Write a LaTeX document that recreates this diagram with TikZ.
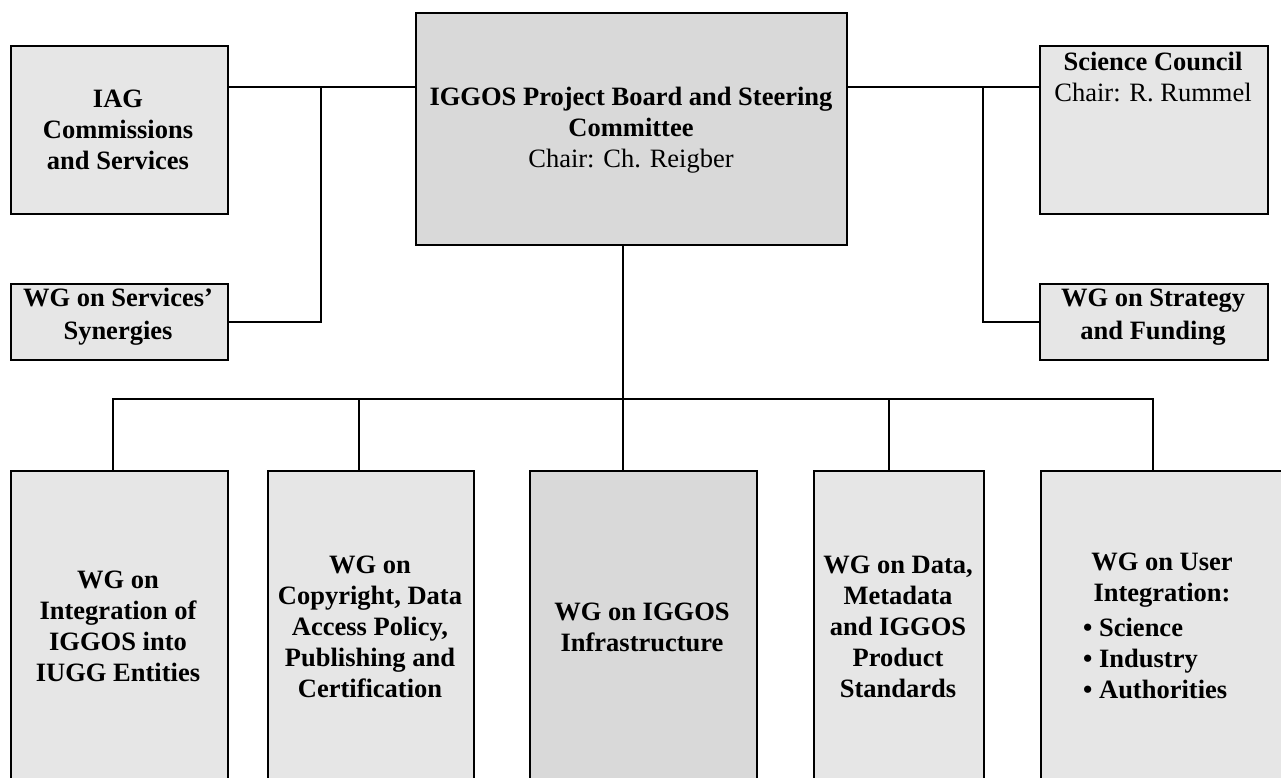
\documentclass[tikz,border=0pt]{standalone}
\usepackage{fontspec}
\setmainfont{Liberation Serif}
\definecolor{lgray}{HTML}{E6E6E6}
\definecolor{dgray}{HTML}{D9D9D9}
\begin{document}
\begin{tikzpicture}[x=1pt,y=-1pt,
  box/.style={draw=black, line width=2pt, fill=lgray, rectangle, inner sep=0pt, anchor=north west},
  darkbox/.style={box, fill=dgray},
  txt/.style={font=\fontsize{26.5}{31}\selectfont\bfseries, align=center, inner sep=0pt},
  wtxt/.style={txt, font=\fontsize{26.5}{33}\selectfont\bfseries},
  conn/.style={draw=black, line width=2pt}]
\useasboundingbox (0,0) rectangle (1281,778);
\clip (0,0) rectangle (1281,778);
% top row
\node[box, minimum width=217pt, minimum height=168pt] (iag) at (10,45) {};
\node[darkbox, minimum width=431pt, minimum height=232pt] (board) at (415,12) {};
\node[box, minimum width=228pt, minimum height=168pt] (sci) at (1039,45) {};
\node[box, minimum width=217pt, minimum height=76pt] (wgs) at (10,283) {};
\node[box, minimum width=228pt, minimum height=76pt] (wgf) at (1039,283) {};
% bottom row
\node[box, minimum width=217pt, minimum height=330pt] (b1) at (10,470) {};
\node[box, minimum width=206pt, minimum height=330pt] (b2) at (267,470) {};
\node[darkbox, minimum width=227pt, minimum height=330pt] (b3) at (529,470) {};
\node[box, minimum width=170pt, minimum height=330pt] (b4) at (813,470) {};
\node[box, minimum width=250pt, minimum height=330pt] (b5) at (1040,470) {};
% texts
\node[txt] (tiag) at (118,130) {IAG\\Commissions\\and Services};
\node[txt] (tboard) at (631,130) {IGGOS Project Board and Steering\\Committee\\\mdseries Chair: Ch. Reigber};
\node[txt] (tsci) at (1153,77) {Science Council\\\mdseries Chair: R. Rummel};
\node[wtxt] (twgs) at (118,317) {WG on Services'\\Synergies};
\node[wtxt] (twgf) at (1153,317) {WG on Strategy\\and Funding};
\node[txt] (tb1) at (118,626) {WG on\\Integration of\\IGGOS into\\IUGG Entities};
\node[txt] (tb2) at (370,627) {WG on\\Copyright, Data\\Access Policy,\\Publishing and\\Certification};
\node[txt] (tb3) at (642,627) {WG on IGGOS\\Infrastructure};
\node[txt] (tb4) at (898,627) {WG on Data,\\Metadata\\and IGGOS\\Product\\Standards};
\node[txt] (tb5) at (1162,580) {WG on User\\Integration:};
\node[txt, align=left, anchor=west] (tb5l) at (1083,658) {• Science\\• Industry\\• Authorities};
% connectors
\coordinate (jl) at (321,87);
\coordinate (jr) at (983,87);
\coordinate (bus) at (623,399);
\coordinate (d1) at (113,399);
\coordinate (d2) at (359,399);
\coordinate (d4) at (889,399);
\coordinate (d5) at (1153,399);
\draw[conn] (iag.east |- jl) -- (board.west |- jl);
\draw[conn] (jl) |- (wgs.east);
\draw[conn] (board.east |- jr) -- (sci.west |- jr);
\draw[conn] (jr) |- (wgf.west);
\draw[conn] (board.south -| bus) -- (bus |- b3.north);
\draw[conn] (d1 |- b1.north) -- (d1) -- (d5) -- (d5 |- b5.north);
\draw[conn] (d2) -- (d2 |- b2.north);
\draw[conn] (d4) -- (d4 |- b4.north);
\end{tikzpicture}
\end{document}
